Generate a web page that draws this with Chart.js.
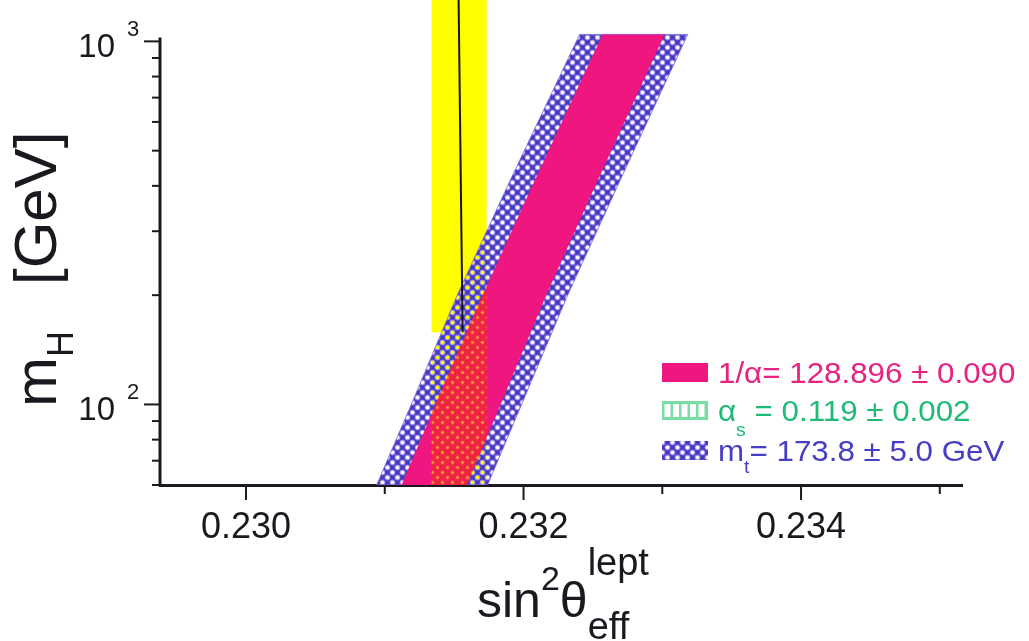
<!DOCTYPE html>
<html>
<head>
<meta charset="utf-8">
<script src="https://cdn.jsdelivr.net/npm/chart.js@4.4.1/dist/chart.umd.min.js"></script>
<style>
  html, body { margin: 0; padding: 0; background: #fff; }
  canvas { display: block; }
</style>
</head>
<body>
<canvas id="chart" width="1029" height="641"></canvas>
<script>
const bandMasses = [60, 100, 200, 400, 1045];
// sin^2 theta edges: m_t band (outer, hatched) and 1/alpha band (inner, magenta)
const mtLow = [0.230941, 0.231191, 0.231522, 0.231885, 0.232404];
const alphaLow = [0.231121, 0.231366, 0.231705, 0.232063, 0.232570];
const alphaHigh = [0.231590, 0.231835, 0.232163, 0.232517, 0.233017];
const mtHigh = [0.231741, 0.231986, 0.232318, 0.232678, 0.233183];

// measured sin^2 theta (yellow band), outline going round the shape
const measX = [0.231337, 0.231337, 0.231409, 0.231337, 0.231337, 0.231734, 0.231734];
const measM = [1300, 158, 158, 133, 60, 60, 1300];
// part of the measurement lying over the 1/alpha band
const overlapX = [0.231337, 0.231337, 0.231366, 0.231705, 0.231734, 0.231734, 0.231590];
const overlapM = [60, 94, 100, 200, 211, 80.7, 60];
// central value line
const centerX = [0.231532, 0.231561];
const centerM = [1300, 158];

// axes
const xTicks = [0.230, 0.231, 0.232, 0.233, 0.234, 0.235];
const xLabelled = [0.230, 0.232, 0.234];
const yTicks = [60, 70, 80, 90, 100, 200, 300, 400, 500, 600, 700, 800, 900, 1000];
const yMajor = [100, 1000];
const yExp = ['2', '3'];
const yAxisTop = 1025;

const FONT = '"Liberation Sans", Arial, sans-serif';
const INK = '#1c1820';
const MAGENTA = '#ef167f';
const YELLOW = '#ffff00';

// tile with dots on a diagonal lattice; hole 'clear' punches see-through holes
function dotPattern(size, bg, halo, haloR, holeR, hole) {
  const c = document.createElement('canvas');
  c.width = size; c.height = size;
  const g = c.getContext('2d');
  g.fillStyle = bg;
  g.fillRect(0, 0, size, size);
  const q = size / 4, centres = [];
  [[q, q], [3 * q, 3 * q]].forEach(([cx, cy]) => {
    for (let dx = -size; dx <= size; dx += size)
      for (let dy = -size; dy <= size; dy += size) centres.push([cx + dx, cy + dy]);
  });
  g.fillStyle = halo;
  centres.forEach(([cx, cy]) => { g.beginPath(); g.arc(cx, cy, haloR, 0, Math.PI * 2); g.fill(); });
  if (hole === 'clear') g.globalCompositeOperation = 'destination-out';
  g.fillStyle = hole === 'clear' ? '#000' : hole;
  centres.forEach(([cx, cy]) => { g.beginPath(); g.arc(cx, cy, holeR, 0, Math.PI * 2); g.fill(); });
  return g.createPattern(c, 'repeat');
}

const mtPattern = dotPattern(10, 'rgb(66,56,186)', 'rgb(160,140,238)', 2.9, 1.8, 'clear');
const overlapPattern = dotPattern(10, 'rgb(238,36,66)', 'rgb(245,86,70)', 1.9, 1.1, 'rgb(255,170,60)');

const pts = (xs, ms) => xs.map((v, i) => ({ x: v, y: ms[i] }));
function bandShape(lo, hi) {
  const xs = lo.concat(hi.slice().reverse(), [lo[0]]);
  const ms = bandMasses.concat(bandMasses.slice().reverse(), [bandMasses[0]]);
  return pts(xs, ms);
}

function drawRich(ctx, x, y, parts, color, sx) {
  ctx.save();
  ctx.translate(x, y);
  ctx.scale(sx || 1, 1);
  ctx.fillStyle = color;
  ctx.textAlign = 'left';
  ctx.textBaseline = 'alphabetic';
  let cx = 0;
  parts.forEach(p => {
    ctx.font = p.size + 'px ' + FONT;
    cx += p.dx || 0;
    ctx.fillText(p.t, cx, p.dy || 0);
    if (!p.stay) cx += ctx.measureText(p.t).width;
  });
  ctx.restore();
}

const legendRows = [
  { color: 'rgb(232,34,128)', parts: [{ t: '1/α= 128.896 ± 0.090', size: 29 }] },
  { color: 'rgb(30,186,118)', parts: [{ t: 'α', size: 29 }, { t: 's', size: 18, dy: 15 }, { t: ' = 0.119 ± 0.002', size: 29 }] },
  { color: 'rgb(70,62,196)', parts: [{ t: 'm', size: 29 }, { t: 't', size: 18, dy: 12 }, { t: '= 173.8 ± 5.0 GeV', size: 29 }] }
];

const decorations = {
  id: 'decorations',
  afterDraw(chart) {
    const ctx = chart.ctx;
    const x = chart.scales.x, y = chart.scales.y;
    const area = chart.chartArea;
    ctx.save();

    // y axis line (starts just above 10^3)
    ctx.strokeStyle = INK;
    ctx.lineWidth = 3;
    ctx.beginPath();
    ctx.moveTo(area.left, y.getPixelForValue(yAxisTop));
    ctx.lineTo(area.left, area.bottom + 1.5);
    ctx.stroke();

    // tick marks, long on labelled values
    ctx.lineWidth = 2;
    xTicks.forEach(v => {
      const px = x.getPixelForValue(v);
      const len = xLabelled.includes(v) ? 15 : 9;
      ctx.beginPath();
      ctx.moveTo(px, area.bottom + 1);
      ctx.lineTo(px, area.bottom + len);
      ctx.stroke();
    });
    yTicks.forEach(v => {
      const py = y.getPixelForValue(v);
      const len = yMajor.includes(v) ? 16 : 8;
      ctx.beginPath();
      ctx.moveTo(area.left - 1, py);
      ctx.lineTo(area.left - len, py);
      ctx.stroke();
    });

    // y labels 10^n
    ctx.fillStyle = INK;
    yMajor.forEach((v, i) => {
      const py = y.getPixelForValue(v);
      ctx.font = '33px ' + FONT;
      ctx.textAlign = 'right';
      ctx.textBaseline = 'alphabetic';
      ctx.fillText('10', 115, py + 16);
      ctx.font = '22px ' + FONT;
      ctx.textAlign = 'left';
      ctx.fillText(yExp[i], 127, py - 5);
    });

    // axis titles
    drawRich(ctx, 477, 617, [
      { t: 'sin', size: 50 },
      { t: '2', size: 34, dy: -27 },
      { t: 'θ', size: 50 },
      { t: 'lept', size: 38, dy: -42, stay: true },
      { t: 'eff', size: 38, dy: 22 }
    ], INK);
    ctx.save();
    ctx.translate(56, 407);
    ctx.rotate(-Math.PI / 2);
    drawRich(ctx, 0, 0, [
      { t: 'm', size: 60 },
      { t: 'H', size: 36, dy: 17 },
      { t: '[GeV]', size: 60, dx: 46 }
    ], INK);
    ctx.restore();

    // legend
    const rowBase = [383, 421, 461];
    rowBase.forEach((b, i) => {
      const bx = 662, by = b - 20, bw = 46, bh = 19;
      if (i === 0) {
        ctx.fillStyle = MAGENTA;
        ctx.fillRect(bx, by, bw, bh);
      } else if (i === 1) {
        ctx.fillStyle = 'rgb(120,222,165)';
        ctx.fillRect(bx, by, bw, bh);
        ctx.fillStyle = '#fff';
        for (let c = 0; c < 5; c++) ctx.fillRect(bx + 2.5 + c * 8.5, by + 3, 6, bh - 6);
      } else {
        ctx.fillStyle = '#fff';
        ctx.fillRect(bx, by, bw, bh);
        ctx.fillStyle = mtPattern;
        ctx.fillRect(bx, by, bw, bh);
      }
      drawRich(ctx, 718, b, legendRows[i].parts, legendRows[i].color, 1.08);
    });

    ctx.restore();
  }
};

new Chart(document.getElementById('chart').getContext('2d'), {
  type: 'line',
  data: {
    datasets: [
      {
        label: 'central value',
        data: pts(centerX, centerM),
        borderColor: '#1a1414',
        borderWidth: 2,
        pointRadius: 0,
        fill: false,
        clip: { left: 0, right: 0, top: false, bottom: 0 },
        order: 0
      },
      {
        label: 'overlap',
        data: pts(overlapX.concat([overlapX[0]]), overlapM.concat([overlapM[0]])),
        backgroundColor: overlapPattern,
        borderWidth: 0,
        pointRadius: 0,
        fill: 'shape',
        order: 1
      },
      {
        label: '1/α band',
        data: bandShape(alphaLow, alphaHigh),
        backgroundColor: MAGENTA,
        borderWidth: 0,
        pointRadius: 0,
        fill: 'shape',
        order: 2
      },
      {
        label: 'm_t band',
        data: bandShape(mtLow, mtHigh),
        backgroundColor: mtPattern,
        borderColor: 'rgba(120,100,225,0.8)',
        borderWidth: 1,
        pointRadius: 0,
        fill: 'shape',
        order: 3
      },
      {
        label: 'measurement',
        data: pts(measX.concat([measX[0]]), measM.concat([measM[0]])),
        backgroundColor: YELLOW,
        borderWidth: 0,
        pointRadius: 0,
        fill: 'shape',
        order: 4
      }
    ]
  },
  options: {
    responsive: false,
    animation: false,
    layout: { padding: { top: 0, right: 67, left: 0, bottom: 0 } },
    plugins: {
      legend: { display: false },
      tooltip: { enabled: false }
    },
    scales: {
      x: {
        type: 'linear',
        min: 0.22938,
        max: 0.23516,
        z: 1,
        afterFit: s => { s.height = 156; },
        grid: { display: true, drawOnChartArea: false, drawTicks: false },
        border: { display: true, width: 3, color: INK },
        ticks: {
          stepSize: 0.001,
          includeBounds: false,
          autoSkip: false,
          maxRotation: 0,
          padding: 21,
          color: INK,
          font: { family: FONT, size: 36 },
          callback: v => xLabelled.some(t => Math.abs(t - v) < 1e-7) ? v.toFixed(3) : ''
        }
      },
      y: {
        type: 'logarithmic',
        min: 60,
        max: 1300,
        z: 1,
        afterFit: s => { s.width = 160; },
        grid: { display: true, drawOnChartArea: false, drawTicks: false },
        border: { display: false },
        ticks: { display: false }
      }
    }
  },
  plugins: [decorations]
});
</script>
</body>
</html>
